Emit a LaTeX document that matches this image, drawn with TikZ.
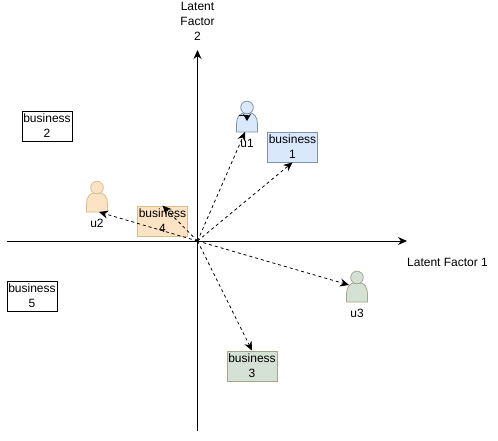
\documentclass[tikz,border=0pt]{standalone}
\usepackage{fontspec}
\setmainfont{Liberation Sans}
\usetikzlibrary{arrows.meta}
\definecolor{blueF}{HTML}{DAE8FC}\definecolor{blueD}{HTML}{7F93AD}
\definecolor{orF}{HTML}{FBE3C4}\definecolor{orD}{HTML}{D8BE8C}
\definecolor{grF}{HTML}{D5E1D5}\definecolor{grD}{HTML}{A3A68C}
\tikzset{
 biz/.style={draw=black,line width=0.8pt,minimum width=50pt,minimum height=30pt,inner sep=0pt,align=center,font=\fontsize{12}{15}\selectfont},
 lab/.style={inner sep=0pt,align=center,font=\fontsize{12}{15}\selectfont},
 axis/.style={line width=0.9pt,-{Stealth[length=9pt,width=8pt]}},
 vec/.style={line width=0.8pt,dash pattern=on 3pt off 3pt,-{Stealth[length=9pt,width=8pt]}},
 person/.style={line width=0.8pt}
}
\newcommand{\personat}[4]{%
 \draw[person,draw=#4,fill=#3] (#1-10.5,#2+12) -- (#1-10.5,#2+4)
   .. controls (#1-10.5,#2-3) and (#1-7,#2-7) .. (#1-3,#2-7)
   -- (#1+3,#2-7) .. controls (#1+7,#2-7) and (#1+10.5,#2-3) .. (#1+10.5,#2+4)
   -- (#1+10.5,#2+12) -- cycle;
 \draw[person,draw=#4,fill=#3] (#1,#2-12.5) circle[radius=6.3];
}
\begin{document}
\begin{tikzpicture}[x=1pt,y=-1pt]
\useasboundingbox (0,0) rectangle (498,440);
\fill[white] (0,0) rectangle (498,440);
\coordinate (o) at (197.5,241);
\coordinate (hs) at (7,241);
\coordinate (he) at (407,241);
\coordinate (vs) at (197.5,431);
\coordinate (ve) at (197.5,50);
\personat{247}{120}{blueF}{blueD}
\personat{97}{200}{orF}{orD}
\personat{357}{290}{grF}{grD}
\node[biz,fill=blueF,draw=blueD] (b1) at (292.5,147) {business\\1};
\node[biz,fill=white] (b2) at (47,126) {business\\2};
\node[biz,fill=grF,draw=grD] (b3) at (252,366) {business\\3};
\node[biz,fill=orF,draw=orD] (b4) at (162.5,221) {business\\4};
\node[biz,fill=white] (b5) at (32,296) {business\\5};
\node[lab] (lu1) at (247,143) {u1};
\node[lab] (lu2) at (97,223) {u2};
\node[lab] (lu3) at (357,313) {u3};
\coordinate (u1) at (245,132);
\coordinate (u1b) at (247,121);
\coordinate (u1c) at (239,115);
\coordinate (u2) at (99,212);
\coordinate (u3) at (349,285);
\draw[axis] (hs) -- (he);
\draw[axis] (vs) -- (ve);
\node[lab] (ly) at (197.5,21) {Latent\\Factor\\2};
\node[lab,anchor=west] (lx) at (407,262) {Latent Factor 1};
\draw[vec] (o) -- (u1);
\draw[vec] (o) -- (b1.south);
\draw[vec] (o) -- (u2);
\draw[vec] (o) -- (b4.north);
\draw[vec] (o) -- (u3);
\draw[vec] (o) -- (b3.north);
\draw[line width=0.8pt,-{Stealth[length=7pt,width=8pt]}] (u1c) -| (u1b);
\end{tikzpicture}
\end{document}
